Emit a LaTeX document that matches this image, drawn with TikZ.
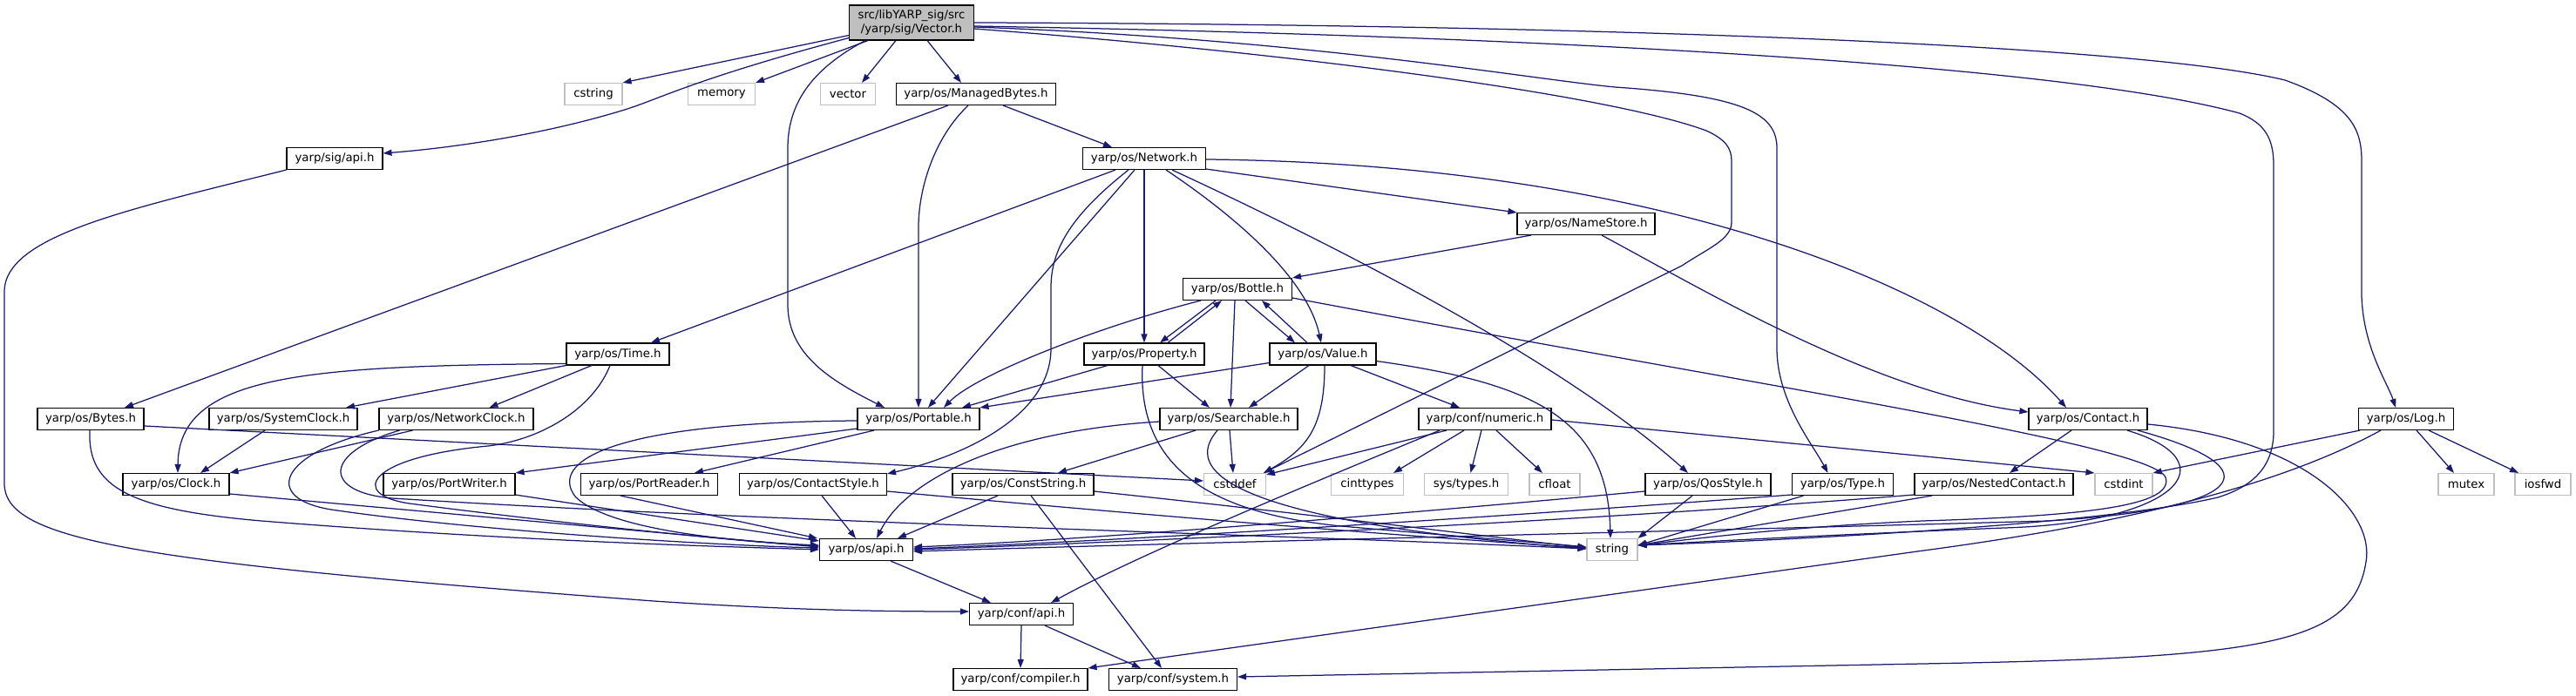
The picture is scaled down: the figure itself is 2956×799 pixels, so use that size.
\documentclass[tikz,border=0pt]{standalone}
\usepackage{fontspec}
\setmainfont{DejaVu Sans}
\usetikzlibrary{arrows.meta}
\definecolor{edgec}{HTML}{191970}
\definecolor{grayb}{HTML}{BFBFBF}
\tikzset{
  box/.style={draw=black, line width=1.1pt, fill=white, minimum height=25pt, inner sep=0pt, font=\fontsize{13.3}{15.5}\selectfont},
  sysbox/.style={box, draw=grayb},
  rootbox/.style={box, fill=grayb, minimum height=40pt, align=center},
  dep/.style={draw=edgec, line width=1.25pt, -{Triangle[length=10pt,width=7pt]}, fill=none},
}
\begin{document}
\begin{tikzpicture}[x=1pt,y=-1pt]
\useasboundingbox (0,0) rectangle (2956,799);
% nodes
\node[rootbox,minimum width=143pt] (vec) at (1046,26) {src/libYARP\_sig/src\\/yarp/sig/Vector.h};
\node[sysbox,minimum width=66pt] (cstring) at (681,108) {cstring};
\node[sysbox,minimum width=77pt] (memory) at (828,108) {memory};
\node[sysbox,minimum width=63pt] (vector) at (973,108) {vector};
\node[box,minimum width=183pt] (mb) at (1120,108) {yarp/os/ManagedBytes.h};
\node[box,minimum width=110pt] (sigapi) at (384,182) {yarp/sig/api.h};
\node[box,minimum width=141pt] (net) at (1313,182) {yarp/os/Network.h};
\node[box,minimum width=158pt] (ns) at (1820,257) {yarp/os/NameStore.h};
\node[box,minimum width=125pt] (bottle) at (1420,332) {yarp/os/Bottle.h};
\node[box,minimum width=118pt] (time) at (709,406.5) {yarp/os/Time.h};
\node[box,minimum width=138pt] (prop) at (1313,406.5) {yarp/os/Property.h};
\node[box,minimum width=122pt] (value) at (1518,406.5) {yarp/os/Value.h};
\node[box,minimum width=140pt] (portable) at (1054,481) {yarp/os/Portable.h};
\node[box,minimum width=158pt] (search) at (1410,481) {yarp/os/Searchable.h};
\node[box,minimum width=152pt] (numeric) at (1704,481) {yarp/conf/numeric.h};
\node[box,minimum width=136pt] (contact) at (2396,481) {yarp/os/Contact.h};
\node[box,minimum width=109pt] (log) at (2761,481) {yarp/os/Log.h};
\node[box,minimum width=122pt] (bytes) at (104,481) {yarp/os/Bytes.h};
\node[box,minimum width=170pt] (sysclock) at (325,481) {yarp/os/SystemClock.h};
\node[box,minimum width=177pt] (netclock) at (523.5,481) {yarp/os/NetworkClock.h};
\node[box,minimum width=122pt] (clock) at (202,556) {yarp/os/Clock.h};
\node[box,minimum width=151pt] (pwriter) at (515.5,556) {yarp/os/PortWriter.h};
\node[box,minimum width=157pt] (preader) at (745,556) {yarp/os/PortReader.h};
\node[box,minimum width=169pt] (cstyle) at (933,556) {yarp/os/ContactStyle.h};
\node[box,minimum width=162pt] (cstr) at (1174,556) {yarp/os/ConstString.h};
\node[sysbox,minimum width=71pt] (cstddef) at (1417,556) {cstddef};
\node[sysbox,minimum width=83pt] (cinttypes) at (1569,556) {cinttypes};
\node[sysbox,minimum width=96pt] (systypes) at (1682.5,556) {sys/types.h};
\node[sysbox,minimum width=58pt] (cfloat) at (1784,556) {cfloat};
\node[box,minimum width=144pt] (qos) at (1960,556) {yarp/os/QosStyle.h};
\node[box,minimum width=116pt] (type) at (2114.5,556) {yarp/os/Type.h};
\node[box,minimum width=182pt] (nested) at (2288,556) {yarp/os/NestedContact.h};
\node[sysbox,minimum width=66pt] (cstdint) at (2437,556) {cstdint};
\node[sysbox,minimum width=64pt] (mutex) at (2830,556) {mutex};
\node[sysbox,minimum width=64pt] (iosfwd) at (2918,556) {iosfwd};
\node[box,minimum width=107pt] (osapi) at (994,631) {yarp/os/api.h};
\node[sysbox,minimum width=58pt] (string) at (1850,631) {string};
\node[box,minimum width=119pt] (confapi) at (1172,705) {yarp/conf/api.h};
\node[box,minimum width=154pt] (compiler) at (1171,780) {yarp/conf/compiler.h};
\node[box,minimum width=147pt] (system) at (1346,780) {yarp/conf/system.h};

% Vector.h
\draw[dep] ([yshift=6pt]vec.south west) -- (cstring.north east);
\draw[dep] ([yshift=3pt]vec.south west) .. controls (800,90) and (760,112) .. (720,125) .. controls (640,150) and (540,168) .. ([yshift=6pt]sigapi.east);
\draw[dep] ([xshift=-50pt]vec.south) -- (memory.north east);
\draw[dep] ([xshift=-18pt]vec.south) -- ([xshift=16pt]vector.north);
\draw[dep] ([xshift=18pt]vec.south) -- ([xshift=-17pt]mb.north);
\draw[dep] ([xshift=-53pt]vec.south) .. controls (930,80) and (904,120) .. (904,170) -- (904,350) .. controls (904,410) and (960,440) .. ([xshift=-39pt]portable.north);
\draw[dep] (vec.east) .. controls (1800,28) and (2450,50) .. (2622,92) .. controls (2700,120) and (2710,150) .. (2710,185) -- (2710,340) .. controls (2712,400) and (2740,440) .. ([xshift=-12pt]log.north);
\draw[dep] ([yshift=-4pt]vec.east) .. controls (1700,40) and (2350,70) .. (2570,130) .. controls (2600,142) and (2609,160) .. (2609,190) -- (2609,495) .. controls (2609,540) and (2580,560) .. (2545,571) .. controls (2400,605) and (2000,622) .. ([yshift=5pt]string.east);
\draw[dep] ([yshift=-5pt]vec.east) .. controls (1500,45) and (1750,90) .. (1853,100) .. controls (2000,110) and (2039,130) .. (2039,170) -- (2039,400) .. controls (2039,460) and (2080,510) .. ([xshift=-17pt]type.north);
\draw[dep] ([yshift=-7pt]vec.east) .. controls (1500,62) and (1850,110) .. (1958,150) .. controls (1980,160) and (1987,170) .. (1987,185) -- (1987,255) .. controls (1987,275) and (1960,285) .. (1930,305) -- ([xshift=-3pt]cstddef.north east);

% ManagedBytes.h
\draw[dep] ([xshift=31pt]mb.south) -- ([xshift=-37pt]net.north);
\draw[dep] ([xshift=-32pt]mb.south) -- ([xshift=39pt]bytes.north);
\draw[dep] ([xshift=-9pt]mb.south) .. controls (1070,160) and (1054,220) .. (1054,260) -- (portable.north);

% yarp/sig/api.h
\draw[dep] (sigapi.south west) .. controls (150,240) and (5,270) .. (5,335) -- (5,555) .. controls (5,620) and (150,645) .. (750,690) .. controls (900,700) and (1000,702) .. ([yshift=3pt]confapi.west);

% Network.h
\draw[dep] ([xshift=-33pt]net.south) -- ([xshift=38pt]time.north);
\draw[dep] ([xshift=-18pt]net.south) .. controls (1225,250) and (1206,290) .. (1206,330) -- (1206,400) .. controls (1206,480) and (1100,525) .. ([yshift=-1pt]cstyle.north east);
\draw[dep] ([xshift=-11pt]net.south) -- ([xshift=11pt]portable.north);
\draw[dep] (net.south) -- (prop.north);
\draw[dep] ([xshift=25pt]net.south) .. controls (1420,250) and (1500,320) .. ([xshift=-2pt]value.north);
\draw[dep] ([xshift=32pt]net.south) .. controls (1550,290) and (1800,420) .. ([xshift=-23pt]qos.north);
\draw[dep] ([yshift=1pt]net.south east) -- (ns.north west);
\draw[dep] ([yshift=-1pt]net.east) .. controls (1900,188) and (2250,330) .. ([xshift=-25pt]contact.north);

% NameStore.h
\draw[dep] ([xshift=-63pt]ns.south) -- (bottle.north east);
\draw[dep] ([xshift=18pt]ns.south) .. controls (1950,330) and (2150,450) .. ([yshift=8pt]contact.west);

% Bottle.h
\draw[dep] ([xshift=-42pt]bottle.south) .. controls (1260,375) and (1120,430) .. ([xshift=29pt]portable.north);
\draw[dep] ([xshift=-25pt]bottle.south) -- ([xshift=18pt]prop.north);
\draw[dep] ([xshift=27pt]prop.north) -- ([xshift=-18pt]bottle.south);
\draw[dep] ([xshift=-3pt]bottle.south) -- ([xshift=2pt]search.north);
\draw[dep] ([xshift=9pt]bottle.south) -- ([xshift=-32pt]value.north);
\draw[dep] ([xshift=-18pt]value.north) -- ([xshift=28pt]bottle.south);
\draw[dep] ([yshift=-10pt]bottle.east) .. controls (2000,440) and (2470,510) .. (2485,548) .. controls (2495,580) and (2400,592) .. (2206,598) .. controls (2050,605) and (1950,618) .. ([yshift=5pt]string.east);

% Property.h
\draw[dep] ([xshift=-42pt]prop.south) -- ([xshift=50pt]portable.north);
\draw[dep] ([xshift=16pt]prop.south) -- ([xshift=-22pt]search.north);
\draw[dep] ([xshift=-2pt]prop.south) .. controls (1305,545) and (1400,592) .. (1550,605) .. controls (1700,618) and (1780,624) .. ([yshift=3pt]string.west);

% Value.h
\draw[dep] ([yshift=-10pt]value.west) -- (portable.north east);
\draw[dep] ([xshift=-16pt]value.south) -- ([xshift=23pt]search.north);
\draw[dep] ([xshift=2pt]value.south) .. controls (1520,490) and (1500,515) .. ([xshift=-3pt]cstddef.north east);
\draw[dep] ([xshift=32pt]value.south) -- ([xshift=-29pt]numeric.north);
\draw[dep] ([yshift=-8pt]value.east) .. controls (1760,440) and (1845,480) .. ([xshift=-2pt]string.north);

% Searchable.h
\draw[dep] ([xshift=-38pt]search.south) -- ([xshift=40pt]cstr.north);
\draw[dep] ([xshift=1pt]search.south) -- ([xshift=-2pt]cstddef.north);
\draw[dep] ([yshift=-3pt]search.west) .. controls (1150,495) and (1040,550) .. ([xshift=12pt]osapi.north);
\draw[dep] ([xshift=-13pt]search.south) .. controls (1340,560) and (1500,605) .. ([yshift=1pt]string.west);

% numeric.h
\draw[dep] ([xshift=-24pt]numeric.south) -- ([xshift=30pt]cinttypes.north);
\draw[dep] ([xshift=-4pt]numeric.south) -- ([xshift=5pt]systypes.north);
\draw[dep] ([xshift=13pt]numeric.south) -- ([xshift=-14pt]cfloat.north);
\draw[dep] ([xshift=-44pt]numeric.south) -- ([yshift=-2pt]cstddef.north east);
\draw[dep] ([xshift=-52pt]numeric.south) .. controls (1480,565) and (1300,640) .. ([xshift=34pt]confapi.north);
\draw[dep] ([yshift=-1pt]numeric.east) -- (cstdint.north west);

% ConstString.h
\draw[dep] ([xshift=-29pt]cstr.south) -- ([xshift=36pt]osapi.north);
\draw[dep] ([xshift=9pt]cstr.south) -- ([xshift=-13pt]system.north);
\draw[dep] ([yshift=-8pt]cstr.east) .. controls (1500,590) and (1700,615) .. ([yshift=2pt]string.west);

% ContactStyle.h
\draw[dep] ([xshift=10pt]cstyle.south) -- ([xshift=-12pt]osapi.north);
\draw[dep] ([yshift=-8pt]cstyle.east) .. controls (1300,590) and (1600,615) .. ([yshift=2pt]string.west);

% Portable.h
\draw[dep] ([yshift=2pt]portable.south west) -- (pwriter.north east);
\draw[dep] ([xshift=-51pt]portable.south) -- ([xshift=52pt]preader.north);
\draw[dep] ([yshift=-2pt]portable.west) .. controls (700,485) and (630,530) .. (660,570) .. controls (700,610) and (850,622) .. ([yshift=5pt]osapi.west);

% PortWriter / PortReader
\draw[dep] ([yshift=1pt]pwriter.south east) -- ([yshift=-3pt]osapi.north west);
\draw[dep] ([xshift=-33pt]preader.south) -- ([xshift=-2pt]osapi.north west);

% Time.h
\draw[dep] ([yshift=-11pt]time.west) .. controls (350,420) and (205,430) .. ([xshift=2pt]clock.north);
\draw[dep] (time.south west) -- ([xshift=72pt]sysclock.north);
\draw[dep] ([xshift=-30pt]time.south) -- ([xshift=38pt]netclock.north);
\draw[dep] ([xshift=-9pt]time.south) .. controls (680,470) and (620,505) .. (560,512) .. controls (420,525) and (400,568) .. (470,578) .. controls (620,598) and (850,622) .. ([yshift=4pt]osapi.west);

% NetworkClock.h
\draw[dep] ([xshift=-50pt]netclock.south) -- (clock.north east);
\draw[dep] (netclock.south west) .. controls (320,520) and (300,572) .. (380,585) .. controls (550,610) and (820,626) .. ([yshift=2pt]osapi.west);
\draw[dep] ([xshift=-65pt]netclock.south) .. controls (370,520) and (370,565) .. (450,572) .. controls (900,600) and (1500,615) .. ([yshift=1pt]string.west);

% SystemClock.h, Clock.h
\draw[dep] ([xshift=-21pt]sysclock.south) -- ([xshift=28pt]clock.north);
\draw[dep] ([yshift=-11pt]clock.east) -- ([yshift=3pt]osapi.west);

% Bytes.h
\draw[dep] ([xshift=-1pt]bytes.south) .. controls (100,560) and (150,585) .. (300,598) .. controls (600,622) and (850,628) .. (osapi.west);
\draw[dep] ([yshift=-8pt]bytes.east) -- ([yshift=4pt]cstddef.west);

% api.h files
\draw[dep] ([xshift=28pt]osapi.south) -- ([xshift=-35pt]confapi.north);
\draw[dep] (confapi.south) -- (compiler.north);
\draw[dep] ([xshift=27pt]confapi.south) -- ([xshift=-37pt]system.north);

% QosStyle.h
\draw[dep] ([yshift=-8pt]qos.west) .. controls (1500,600) and (1200,622) .. ([yshift=3pt]osapi.east);
\draw[dep] ([xshift=-18pt]qos.south) -- (string.north east);

% Type.h
\draw[dep] ([yshift=-12pt]type.west) .. controls (1700,595) and (1300,620) .. ([yshift=1pt]osapi.east);
\draw[dep] ([xshift=-45pt]type.south) -- ([yshift=5pt]string.east);

% NestedContact.h
\draw[dep] ([yshift=-12pt]nested.west) .. controls (1800,600) and (1300,622) .. (osapi.east);
\draw[dep] ([xshift=-71pt]nested.south) -- ([yshift=5pt]string.east);

% Contact.h
\draw[dep] ([xshift=-19pt]contact.south) -- ([xshift=18pt]nested.north);
\draw[dep] ([xshift=45pt]contact.south) .. controls (2560,530) and (2500,600) .. (2300,606) .. controls (2100,614) and (1950,622) .. ([yshift=5pt]string.east);
\draw[dep] ([xshift=57pt]contact.south) .. controls (2620,540) and (2570,585) .. (2350,598) .. controls (2000,608) and (1400,622) .. ([yshift=-2pt]osapi.east);
\draw[dep] ([yshift=-6pt]contact.east) .. controls (2650,505) and (2725,590) .. (2715,645) .. controls (2700,740) and (2600,755) .. (2206,762) -- ([yshift=3pt]system.east);

% Log.h
\draw[dep] ([xshift=2pt]log.south west) -- (cstdint.north east);
\draw[dep] ([xshift=12pt]log.south) -- ([xshift=-14pt]mutex.north);
\draw[dep] ([xshift=26pt]log.south) -- ([xshift=-28pt]iosfwd.north);
\draw[dep] ([xshift=-29pt]log.south) .. controls (2620,555) and (2450,600) .. (2200,633) -- (compiler.north east);
\end{tikzpicture}
\end{document}
